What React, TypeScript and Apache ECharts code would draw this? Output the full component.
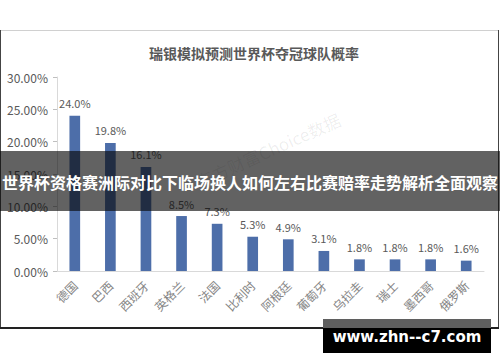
import React, { useEffect, useRef } from "react";
import * as echarts from "echarts";

const categories = ["德国", "巴西", "西班牙", "英格兰", "法国", "比利时", "阿根廷", "葡萄牙", "乌拉圭", "瑞士", "墨西哥", "俄罗斯"];
const values = [24.0, 19.8, 16.1, 8.5, 7.3, 5.3, 4.9, 3.1, 1.8, 1.8, 1.8, 1.6];
const titleText = "瑞银模拟预测世界杯夺冠球队概率";
const bannerText = "世界杯资格赛洲际对比下临场换人如何左右比赛赔率走势解析全面观察";
const siteText = "www.zhn--c7.com";
const watermarkText = "东方财富Choice数据";

const FONT = "'Noto Sans CJK SC', 'Noto Sans', sans-serif";

export default function App() {
  const ref = useRef<HTMLDivElement>(null);
  useEffect(() => {
    document.body.style.margin = "0";
    if (!ref.current) return;
    const chart = echarts.init(ref.current, null, { renderer: "svg" });
    chart.setOption({
      animation: false,
      backgroundColor: "#ffffff",
      title: {
        text: titleText,
        left: 249,
        top: 41,
        textAlign: "center",
        textStyle: { fontFamily: FONT, fontSize: 14, fontWeight: "bold", color: "#595959" },
      },
      grid: { left: 57, right: 16, top: 77, bottom: 91, containLabel: false },
      xAxis: {
        type: "category",
        data: categories,
        axisLine: { show: true, lineStyle: { color: "#d9d9d9" } },
        axisTick: { show: false },
        axisLabel: { rotate: 45, color: "#858585", fontSize: 12, fontFamily: FONT, margin: 12, interval: 0 },
      },
      yAxis: {
        type: "value",
        min: 0,
        max: 30,
        interval: 5,
        axisLine: { show: true, lineStyle: { color: "#d9d9d9" } },
        axisTick: { show: true, length: 4, lineStyle: { color: "#bfbfbf" } },
        splitLine: { show: false },
        axisLabel: {
          color: "#595959",
          fontSize: 12,
          fontFamily: FONT,
          margin: 9,
          formatter: (v: number) => v.toFixed(2) + "%",
        },
      },
      series: [
        {
          type: "bar",
          data: values,
          barWidth: "30%",
          itemStyle: { color: "#4d6ea9" },
          label: {
            show: true,
            position: "top",
            distance: 7,
            color: "#595959",
            fontSize: 11,
            fontFamily: FONT,
            formatter: (p: any) => Number(p.value).toFixed(1) + "%",
          },
        },
      ],
      graphic: [
        { type: "line", shape: { x1: 0, y1: 30.5, x2: 499, y2: 30.5 }, style: { stroke: "#d0d0d0", lineWidth: 1 }, z: 50 },
        { type: "line", shape: { x1: 0.5, y1: 30, x2: 0.5, y2: 328 }, style: { stroke: "#444", lineWidth: 1 }, z: 50 },
        { type: "line", shape: { x1: 498.5, y1: 30, x2: 498.5, y2: 328 }, style: { stroke: "#444", lineWidth: 1 }, z: 50 },
        { type: "line", shape: { x1: 0, y1: 328, x2: 499, y2: 328 }, style: { stroke: "#222", lineWidth: 2 }, z: 50 },
        {
          type: "text",
          x: 268,
          y: 150,
          rotation: 0.42,
          style: {
            text: watermarkText,
            fontSize: 17,
            fontFamily: FONT,
            fill: "rgba(0,0,0,0.07)",
            align: "center",
            verticalAlign: "middle",
          },
          z: 60,
        },
        { type: "rect", shape: { x: 0, y: 151, width: 500, height: 60 }, style: { fill: "rgba(10,10,10,0.64)" }, z: 100 },
        {
          type: "text",
          x: 250,
          y: 182,
          style: {
            text: bannerText,
            fontSize: 16,
            fontWeight: "bold",
            fontFamily: FONT,
            fill: "#ffffff",
            align: "center",
            verticalAlign: "middle",
          },
          z: 101,
        },
        { type: "rect", shape: { x: 323, y: 319, width: 168, height: 9 }, style: { fill: "#5f5f5f" }, z: 100 },
        { type: "rect", shape: { x: 323, y: 328, width: 168, height: 25 }, style: { fill: "#000000" }, z: 100 },
        {
          type: "text",
          x: 407,
          y: 337,
          style: {
            text: siteText,
            fontSize: 15,
            fontWeight: "bold",
            fontFamily: "'DejaVu Sans', sans-serif",
            fill: "#ffffff",
            align: "center",
            verticalAlign: "middle",
          },
          z: 101,
        },
      ],
    });
    return () => chart.dispose();
  }, []);
  return <div ref={ref} style={{ width: 500, height: 362 }} />;
}
